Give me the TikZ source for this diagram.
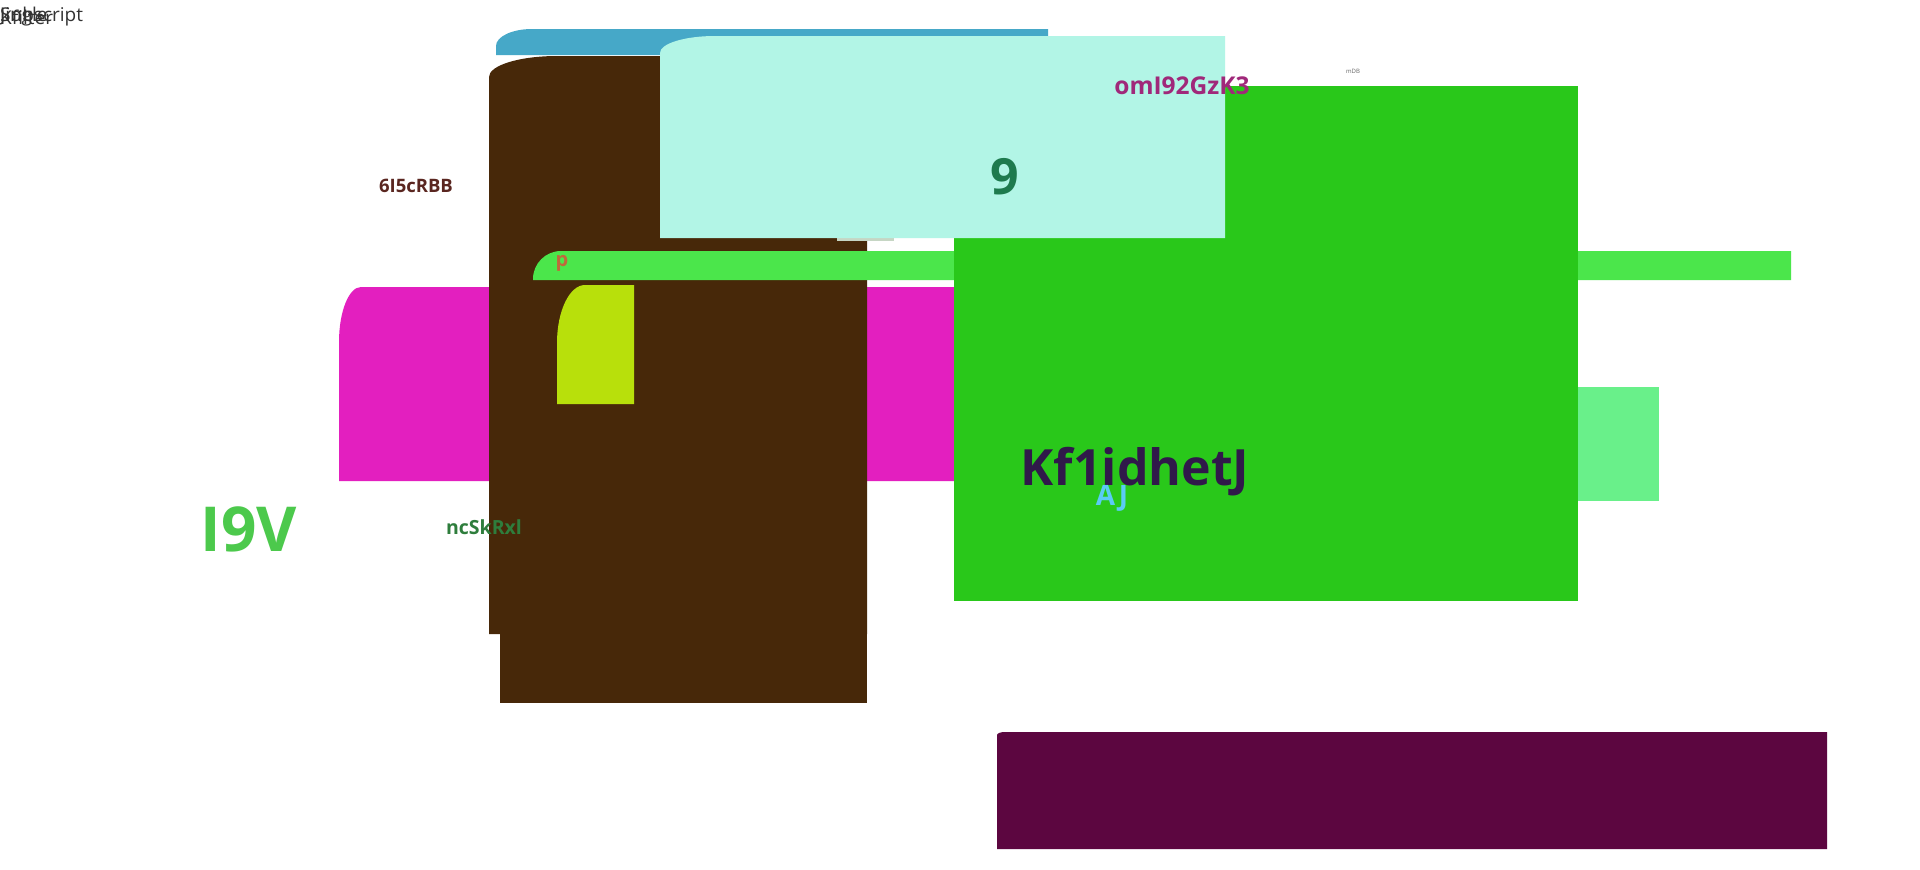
\documentclass[tikz,border=0pt]{standalone}
\usepackage{fontspec}
\setmainfont{Open Sans}
\usepackage{tikz}
\usetikzlibrary{calc,positioning}
\definecolor{topblue}{HTML}{46A8C8}
\definecolor{mybrown}{HTML}{472809}
\definecolor{mycyan}{HTML}{B2F5E6}
\definecolor{biggreen}{HTML}{29C81A}
\definecolor{bargreen}{HTML}{4BE64B}
\definecolor{mymagenta}{HTML}{E31FBF}
\definecolor{myyellow}{HTML}{B8E00B}
\definecolor{palegreen}{HTML}{69F08A}
\definecolor{mypurple}{HTML}{5C0640}
\definecolor{stripgrey}{HTML}{C6D6C4}
\newcommand{\fs}[1]{\fontsize{#1}{#1}\selectfont}
\tikzset{lbl/.style={inner sep=0pt, font=\bfseries}}

\begin{document}
\begin{tikzpicture}[x=1pt, y=-1pt]
    \useasboundingbox[fill=white] (0,0) rectangle (1920,870);
    % back shapes
    \fill[mymagenta] (339,481) -- (339,342) arc(180:270:22 and 55) --
      (954,287) -- (954,481) -- cycle;
    \fill[topblue] (496,55) -- (496,46) arc(180:270:36 and 17) --
      (1048,29) -- (1048,55) -- cycle;
    \fill[mybrown] (489,634) -- (489,77) arc(180:270:68 and 21) --
      (867,56) -- (867,634) -- cycle;
    \fill[mybrown] (500,600) rectangle (867,703);
    \fill[bargreen] (533,280) -- (533,279) arc(180:270:28 and 28) --
      (1791,251) -- (1791,280) -- cycle;
    \fill[myyellow] (557,404) -- (557,343) arc(180:270:28 and 58) --
      (634,285) -- (634,404) -- cycle;
    \fill[biggreen] (954,86) rectangle (1578,601);
    \fill[stripgrey] (837,236) rectangle (894,241);
    \fill[mycyan] (660,238) -- (660,53) arc(180:270:55 and 17) --
      (1225,36) -- (1225,238) -- cycle;
    \fill[palegreen] (1578,387) rectangle (1659,501);
    \fill[mypurple] (997,849) -- (997,735) arc(180:270:8 and 3) --
      (1827,732) -- (1827,849) -- cycle;
    % labels
    \node[anchor=west, inner sep=0pt, text=black!80, font=\fs{19}] (cap1) at (0,17) {Subscript};
    \node[anchor=west, inner sep=0pt, text=black!80, font=\fs{19}] (cap2) at (0,17) {Jingle};
    \node[anchor=west, inner sep=0pt, text=black!80, font=\fs{19}] (cap3) at (0,17) {Kfilter};
    \node[lbl, text={rgb,255:red,90;green,38;blue,32}, font=\bfseries\fs{18.5}] (sixi) at (416,186) {6I5cRBB};
    \node[lbl, text={rgb,255:red,160;green,40;blue,122}, font=\bfseries\fs{24.5}] (omi) at (1182,86) {omI92GzK3};
    \node[lbl, text={rgb,255:red,30;green,122;blue,78}, font=\bfseries\fs{50}] (nine) at (1005,177) {9};
    \node[lbl, text=black!60, font=\fs{6}] (mdb) at (1353,71) {mDB};
    \node[lbl, text={rgb,255:red,192;green,104;blue,60}, font=\bfseries\fs{20}] (pee) at (562,263) {p};
    \node[lbl, text={rgb,255:red,48;green,25;blue,74}, font=\bfseries\fs{50}] (kf) at (1135,472) {Kf1idhetJ};
    \node[lbl, text={rgb,255:red,91;green,203;blue,245}, font=\bfseries\fs{28}] (aj) at (1112,498) {AJ};
    \node[lbl, text={rgb,255:red,76;green,201;blue,76}, font=\bfseries\fs{62}] (inine) at (249,529) {I9V};
    \node[lbl, text={rgb,255:red,46;green,125;blue,60}, font=\bfseries\fs{19.5}] (nc) at (484,527) {ncSkRxl};
\end{tikzpicture}
\end{document}
